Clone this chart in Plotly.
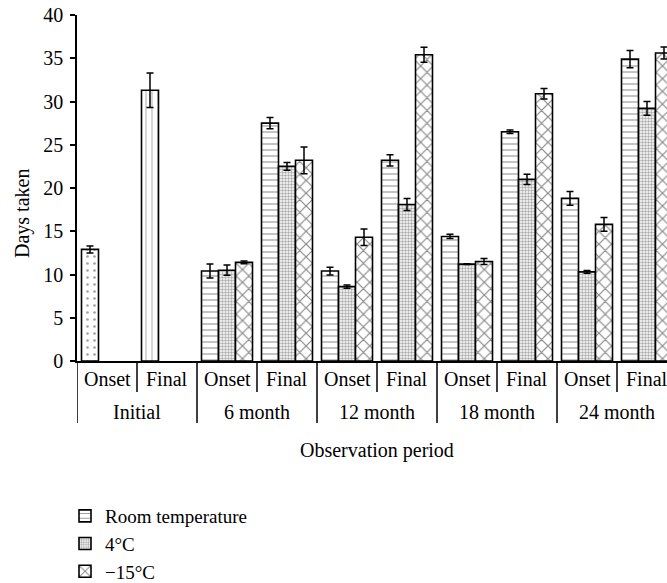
import plotly.graph_objects as go

periods = ["Initial", "6 month", "12 month", "18 month", "24 month"]
stages = ["Onset", "Final"]
categories = [f"{p}|{s}" for p in periods for s in stages]

# Room temperature / 4°C / -15°C for 6..24 month (Onset, Final)
stored_cats = categories[2:]
room_temp = [10.4, 27.5, 10.4, 23.2, 14.4, 26.5, 18.8, 34.9]
room_temp_err = [0.8, 0.65, 0.45, 0.65, 0.25, 0.2, 0.8, 1.0]
four_c = [10.5, 22.5, 8.6, 18.1, 11.2, 21.0, 10.3, 29.2]
four_c_err = [0.6, 0.45, 0.2, 0.7, 0.05, 0.6, 0.15, 0.8]
minus15 = [11.4, 23.2, 14.3, 35.4, 11.5, 30.9, 15.8, 35.6]
minus15_err = [0.15, 1.55, 0.95, 0.87, 0.35, 0.6, 0.8, 0.7]

initial_onset = [12.9]
initial_onset_err = [0.4]
initial_final = [31.3]
initial_final_err = [2.0]

y_ticks = [0, 5, 10, 15, 20, 25, 30, 35, 40]

FONT = "Liberation Serif"
FS = 20


def xpos(keys):
    return [categories.index(k) for k in keys]


def err(arr):
    return dict(type="data", array=arr, color="black", thickness=1.5, width=3.5)


line = dict(color="black", width=1.6)

fig = go.Figure()
fig.add_trace(go.Bar(
    x=xpos(["Initial|Onset"]), y=initial_onset, error_y=err(initial_onset_err),
    offsetgroup="rt", showlegend=False,
    marker=dict(color="white", line=line,
                pattern=dict(shape=".", fgcolor="#444", bgcolor="white", size=7, solidity=0.12)),
))
fig.add_trace(go.Bar(
    x=xpos(["Initial|Final"]), y=initial_final, error_y=err(initial_final_err),
    offsetgroup="rt", showlegend=False,
    marker=dict(color="white", line=line,
                pattern=dict(shape="|", fgcolor="#444", bgcolor="white", size=6, solidity=0.15)),
))
fig.add_trace(go.Bar(
    x=xpos(stored_cats), y=room_temp, error_y=err(room_temp_err),
    name="Room temperature", offsetgroup="rt",
    marker=dict(color="white", line=line,
                pattern=dict(shape="-", fgcolor="#222", bgcolor="white", size=6, solidity=0.18)),
))
fig.add_trace(go.Bar(
    x=xpos(stored_cats), y=four_c, error_y=err(four_c_err),
    name="4°C", offsetgroup="c4",
    marker=dict(color="white", line=line,
                pattern=dict(shape=".", fgcolor="#555", bgcolor="white", size=3, solidity=0.5)),
))
fig.add_trace(go.Bar(
    x=xpos(stored_cats), y=minus15, error_y=err(minus15_err),
    name="−15°C", offsetgroup="m15",
    marker=dict(color="white", line=line,
                pattern=dict(shape="x", fgcolor="#111", bgcolor="white", size=9, solidity=0.25)),
))

plot_left, plot_right = 77, 667
slot_px = 60
x_max = -0.5 + (plot_right - plot_left) / slot_px

plot_h = 346
shapes = []
annotations = []
for i, p in enumerate(periods):
    x0 = 2 * i
    shapes.append(dict(type="line", xref="x", yref="paper", x0=x0 - 0.5, x1=x0 - 0.5,
                       y0=0, y1=-62 / plot_h, line=dict(color="black", width=1.5)))
    shapes.append(dict(type="line", xref="x", yref="paper", x0=x0 + 0.5, x1=x0 + 0.5,
                       y0=0, y1=-31 / plot_h, line=dict(color="black", width=1.5)))
    for j, s in enumerate(stages):
        annotations.append(dict(x=x0 + j, y=-18 / plot_h, xref="x", yref="paper", text=s,
                                showarrow=False, yanchor="middle",
                                font=dict(family=FONT, size=FS, color="black")))
    annotations.append(dict(x=x0 + 0.5, y=-51 / plot_h, xref="x", yref="paper", text=p,
                            showarrow=False, yanchor="middle",
                            font=dict(family=FONT, size=FS, color="black")))
shapes.append(dict(type="line", xref="x", yref="paper", x0=9.5, x1=9.5,
                   y0=0, y1=-62 / plot_h, line=dict(color="black", width=1.5)))

annotations.append(dict(x=4.5, y=-89 / plot_h, xref="x", yref="paper", text="Observation period",
                        showarrow=False, yanchor="middle",
                        font=dict(family=FONT, size=FS, color="black")))
annotations.append(dict(x=-55 / 590, y=(361 - 214) / plot_h, xref="paper", yref="paper",
                        text="Days taken", textangle=-90, showarrow=False,
                        xanchor="center", yanchor="middle",
                        font=dict(family=FONT, size=FS, color="black")))

fig.update_layout(
    width=667, height=583,
    margin=dict(l=plot_left, r=0, t=15, b=222, autoexpand=False),
    paper_bgcolor="white", plot_bgcolor="white",
    barmode="group", bargap=0.15, bargroupgap=0,
    font=dict(family=FONT, size=FS, color="black"),
    xaxis=dict(range=[-0.5, x_max], showticklabels=False, ticks="", showgrid=False,
               zeroline=False, showline=True, linecolor="black", linewidth=1.5),
    yaxis=dict(range=[0, 40], tickvals=y_ticks, ticks="outside", ticklen=5, tickwidth=1.5,
               tickcolor="black", showgrid=False, zeroline=False, showline=True,
               linecolor="black", linewidth=1.5, ticklabelstandoff=3,
               tickfont=dict(family=FONT, size=FS, color="black")),
    legend=dict(x=-12 / 590, y=-136 / plot_h, xanchor="left", yanchor="top",
                font=dict(family=FONT, size=19, color="black"),
                bgcolor="rgba(0,0,0,0)", tracegroupgap=0),
    shapes=shapes,
    annotations=annotations,
)

fig.write_html("out.html", config={"displayModeBar": False},
               post_script="document.body.style.margin='0';")
